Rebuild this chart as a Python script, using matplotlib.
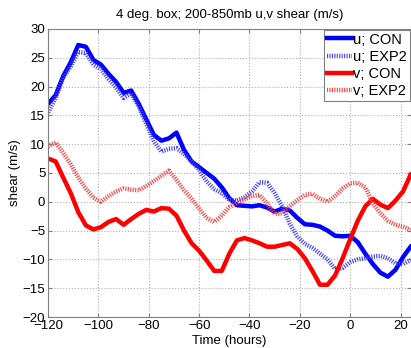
import matplotlib
matplotlib.use("Agg")
import matplotlib.pyplot as plt
import numpy as np

# Time axis (hours), 3-hourly
hours = list(range(-120, 25, 3))

u_con = [17.0, 18.5, 21.8, 24.2, 27.2, 26.9, 24.6, 23.8, 22.2, 20.8,
         18.9, 19.3, 17.0, 14.3, 11.6, 10.6, 11.0, 12.0, 9.0, 7.0,
         6.0, 5.0, 4.0, 2.5, 0.6, -0.6, -0.7, -0.8, -0.6, -1.0,
         -1.7, -1.2, -1.5, -2.8, -3.9, -4.0, -4.3, -5.0, -5.9, -6.0,
         -5.9, -7.0, -9.0, -10.8, -12.3, -13.0, -11.8, -9.6, -7.8]

u_exp2 = [15.5, 18.0, 21.5, 23.5, 26.0, 25.8, 23.8, 23.0, 21.3, 19.8,
          18.0, 18.8, 16.5, 13.5, 10.5, 8.7, 9.2, 9.3, 8.3, 7.0,
          5.5, 3.5, 2.2, 1.5, 0.3, 0.2, 0.8, 1.8, 3.4, 3.3,
          1.5, -0.8, -3.8, -6.0, -7.3, -8.0, -9.0, -10.0, -11.7, -11.5,
          -10.5, -10.0, -9.8, -9.5, -9.4, -9.8, -10.7, -10.8, -10.1]

v_con = [7.5, 7.0, 4.2, 1.5, -1.8, -4.1, -4.8, -4.4, -3.5, -3.0,
         -4.0, -3.0, -2.1, -1.4, -1.7, -1.1, -1.2, -2.4, -5.0, -7.2,
         -8.5, -10.2, -12.0, -12.0, -9.0, -6.7, -6.3, -6.7, -7.2, -7.8,
         -7.8, -7.5, -7.2, -8.2, -9.8, -12.0, -14.4, -14.4, -12.8, -9.8,
         -6.5, -3.3, -0.8, 0.5, -0.5, -1.1, 0.2, 1.8, 4.7]

v_exp2 = [9.6, 10.3, 8.5, 6.5, 4.2, 2.3, 0.7, 0.0, 1.0, 1.8,
          2.3, 2.1, 2.0, 2.7, 3.6, 4.5, 5.4, 3.8, 2.0, 0.5,
          -1.2, -2.8, -3.5, -2.4, -0.9, -0.2, 0.4, 1.0, 1.2, -0.3,
          -2.1, -2.0, -0.8, 0.3, 1.2, 1.4, 0.5, 0.0, 1.0, 2.3,
          3.2, 3.3, 2.5, -0.3, -2.0, -3.3, -4.0, -4.3, -4.9]

plt.rcParams['font.family'] = ['Liberation Sans', 'DejaVu Sans']

fig = plt.figure(figsize=(4.11, 3.48), dpi=100)
ax = fig.add_axes([0.117, 0.089, 0.882, 0.828])

dots = (0, (0.25, 0.3))
ax.plot(hours, u_con, color='#0000ff', lw=3.2, label='u; CON')
ax.plot(hours, u_exp2, color='#4040ff', lw=3.2, ls=dots, dash_capstyle='butt', label='u; EXP2')
ax.plot(hours, v_con, color='#ff0000', lw=3.2, label='v; CON')
ax.plot(hours, v_exp2, color='#ff4040', lw=3.2, ls=dots, dash_capstyle='butt', label='v; EXP2')

ax.set_xlim(-120, 24)
ax.set_ylim(-20, 30)
ax.set_xticks(range(-120, 21, 20))
ax.set_yticks(range(-20, 31, 5))
ax.grid(True, ls=':', color='#b0b0b0', lw=0.8)
ax.tick_params(direction='in', length=3, labelsize=9.5, top=True, right=True,
               color='#808080', pad=2)
for s in ax.spines.values():
    s.set_color('#808080')
    s.set_linewidth(0.8)

ax.set_title('4 deg. box; 200-850mb u,v shear (m/s)', fontsize=9.5, pad=8)
ax.set_xlabel('Time (hours)', fontsize=9.5, labelpad=2)
ax.set_ylabel('shear (m/s)', fontsize=9.5, labelpad=1)

leg = ax.legend(loc='upper right', fontsize=10.5, handlelength=1.7, handletextpad=0.1,
                borderpad=0.2, labelspacing=0.22, borderaxespad=0.05,
                fancybox=False, framealpha=1)
leg.get_frame().set_edgecolor('#808080')
leg.get_frame().set_linewidth(0.8)

fig.savefig('out.png', dpi=100)
